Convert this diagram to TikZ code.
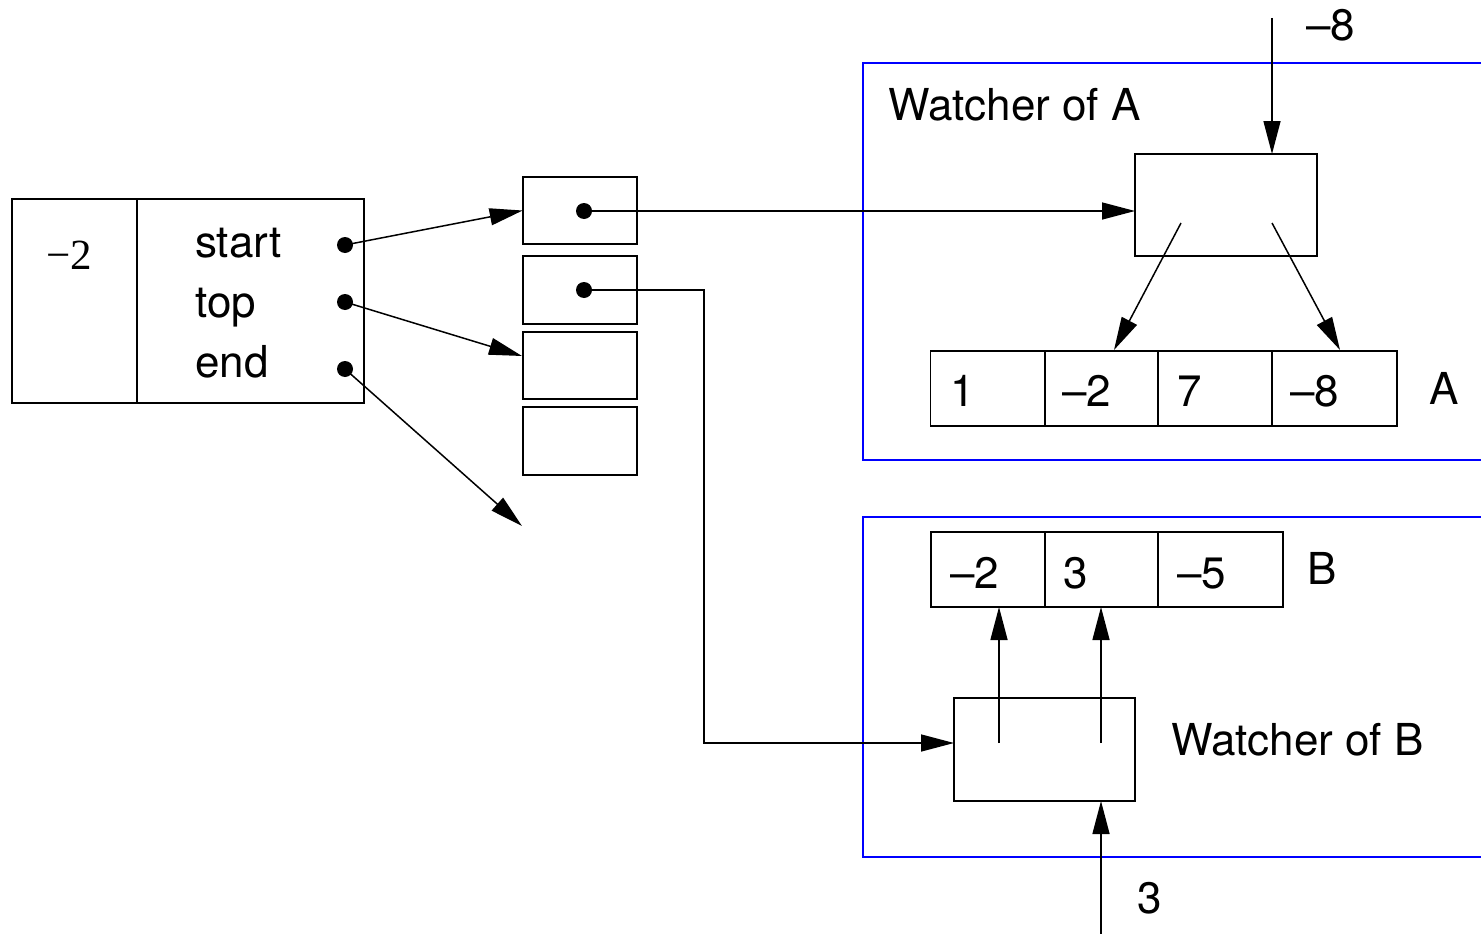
\documentclass[tikz,border=0pt]{standalone}
\usepackage{fontspec}
\setmainfont{TeX Gyre Heros}
\newfontfamily\timesfont{Liberation Serif}
\usetikzlibrary{arrows.meta}
\begin{document}
\begin{tikzpicture}[x=1pt,y=-1pt,
  box/.style={draw,line width=1.8pt,inner sep=0,outer sep=0,minimum width=#1},
  box/.default=114,
  dot/.style={circle,fill,inner sep=0,minimum size=16pt},
  arr/.style={line width=1.5pt,-{Triangle[length=33pt,width=17pt]}},
  frame/.style={draw=blue,line width=2pt},
  lbl/.style={inner sep=0,anchor=base west,font=\fontsize{44}{48}\selectfont},
  serlbl/.style={inner sep=0,anchor=base west,font=\timesfont\fontsize{43}{48}\selectfont}]
\useasboundingbox (0,0) rectangle (1481,934);
% left record
\node[box=125,minimum height=204] (Lleft) at (74.5,301) {};
\node[box=227,minimum height=204] (Lright) at (250.5,301) {};
\node[serlbl] (lm2) at (46,269) {−2};
\node[lbl] (ls) at (195,257) {start};
\node[lbl] (lt) at (195,317) {top};
\node[lbl] (le) at (195,377) {end};
\node[dot] (d1) at (345,245) {};
\node[dot] (d2) at (345,302) {};
\node[dot] (d3) at (345,369) {};
% stack cells
\node[box,minimum height=67.6] (c1) at (579.7,210.5) {};
\node[box,minimum height=68] (c2) at (579.7,290) {};
\node[box,minimum height=67.3] (c3) at (579.7,365.4) {};
\node[box,minimum height=68] (c4) at (579.7,441) {};
\node[dot] (p1) at (584,211) {};
\node[dot] (p2) at (584,290) {};
\coordinate (t2) at (522,356);
\coordinate (t3) at (522,526);
\draw[arr] (d1.center) -- (c1.west);
\draw[arr] (d2.center) -- (t2);
\draw[arr] (d3.center) -- (t3);
% frames
\draw[frame] (1490,63) -- (863,63) -- (863,460) -- (1490,460);
\draw[frame] (1490,517) -- (863,517) -- (863,857) -- (1490,857);
% watcher A
\node[lbl] (wAl) at (888,120) {Watcher of A};
\node[box=182,minimum height=102] (wA) at (1226,205) {};
\node[box=114.5,minimum height=75] (a1) at (987.75,388.5) {};
\node[box=113,minimum height=75] (a2) at (1101.5,388.5) {};
\node[box=114,minimum height=75] (a3) at (1215,388.5) {};
\node[box=125,minimum height=75] (a4) at (1334.5,388.5) {};
\node[lbl] (a1t) at (950,406) {1};
\node[lbl] (a2t) at (1062,406) {–2};
\node[lbl] (a3t) at (1177,406) {7};
\node[lbl] (a4t) at (1290,406) {–8};
\node[lbl] (Al) at (1429,404) {A};
\coordinate (inA) at (1272,18);
\node[lbl] (inAl) at (1306,41) {–8};
\draw[arr] (inA) -- (inA |- wA.north);
\draw[arr] (p1.center) -- (p1.center -| wA.west);
\coordinate (oA1) at (1181,223);
\coordinate (oA2) at (1272,223);
\coordinate (tA1) at (1114,350);
\coordinate (tA2) at (1340,350);
\draw[arr] (oA1) -- (tA1);
\draw[arr] (oA2) -- (tA2);
% watcher B
\node[box=114,minimum height=75] (b1) at (988,569.5) {};
\node[box=113,minimum height=75] (b2) at (1101.5,569.5) {};
\node[box=125,minimum height=75] (b3) at (1220.5,569.5) {};
\node[lbl] (b1t) at (950,588) {–2};
\node[lbl] (b2t) at (1063,588) {3};
\node[lbl] (b3t) at (1177,588) {–5};
\node[lbl] (Bl) at (1307,584) {B};
\node[box=181,minimum height=103] (wB) at (1044.5,749.5) {};
\node[lbl] (wBl) at (1171,755) {Watcher of B};
\coordinate (bend) at (704,743);
\draw[arr] (p2.center) -| (bend) -- (bend -| wB.west);
\coordinate (oB1) at (999,743);
\coordinate (oB2) at (1101,743);
\draw[arr] (oB1) -- (oB1 |- b1.south);
\draw[arr] (oB2) -- (oB2 |- b2.south);
\coordinate (inB) at (1101,934);
\draw[arr] (inB) -- (inB |- wB.south);
\node[lbl] (inBl) at (1137,913) {3};
\end{tikzpicture}
\end{document}
